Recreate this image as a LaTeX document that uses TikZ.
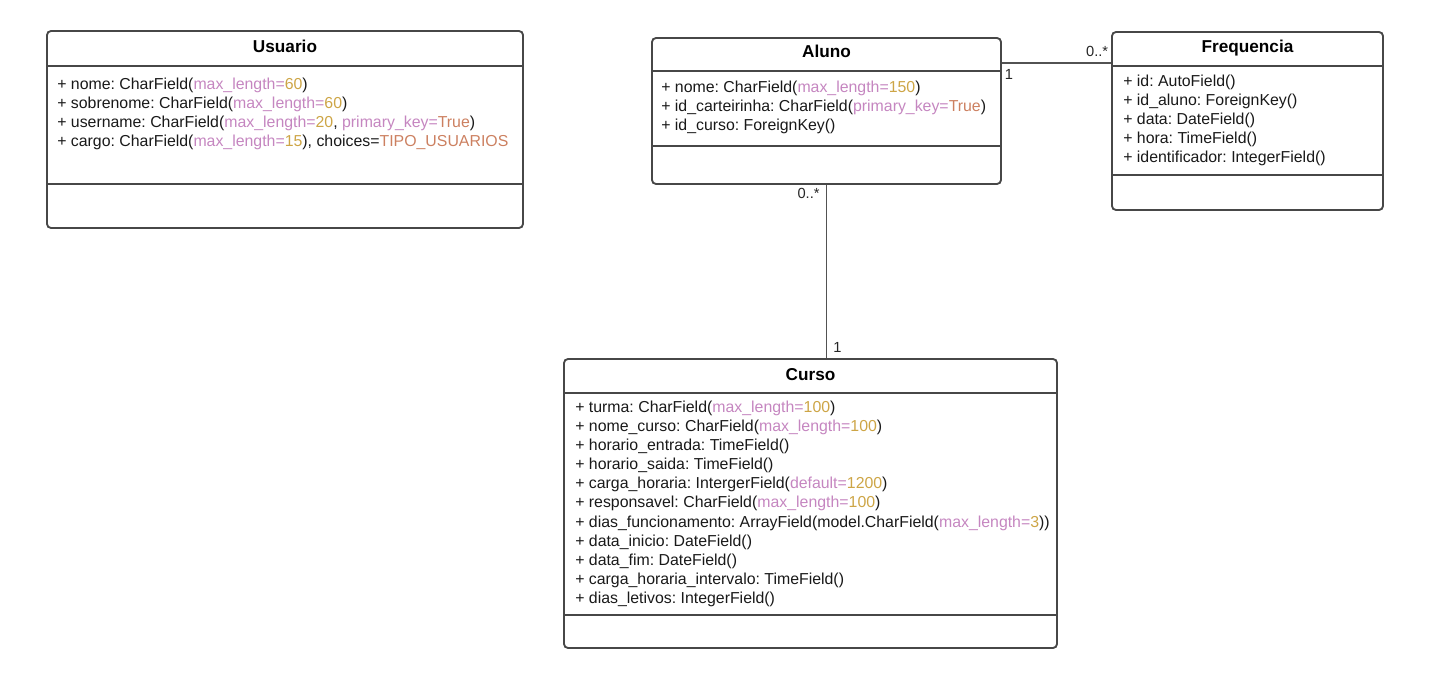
\documentclass[tikz,border=0pt]{standalone}
\usepackage{fontspec}
\setmainfont{Liberation Sans}
\usepackage{tikz}
\definecolor{argk}{RGB}{197,134,192}
\definecolor{argv}{RGB}{205,165,70}
\definecolor{truec}{RGB}{204,128,96}
\newcommand{\ak}[1]{\textcolor{argk}{#1}}
\newcommand{\av}[1]{\textcolor{argv}{#1}}
\newcommand{\tv}[1]{\textcolor{truec}{#1}}
\frenchspacing

\begin{document}
\begin{tikzpicture}[x=0.75pt,y=-0.75pt,
  classbox/.style={draw=black!72,line width=1.4pt,rounded corners=3pt,inner sep=0pt},
  title/.style={anchor=base,inner sep=0pt,font=\fontsize{12.9}{15}\selectfont\bfseries},
  attr/.style={anchor=base west,inner sep=0pt,text=black!90,font=\fontsize{11.9}{14}\selectfont},
  mult/.style={inner sep=1.5pt,text=black!85,font=\fontsize{11}{13}\selectfont},
  divider/.style={draw=black!72,line width=1.4pt},
  assoc/.style={draw=black!68,line width=1.4pt}]
\useasboundingbox (0,0) rectangle (1431,681);

% Usuario
\node[classbox,minimum width=357pt,minimum height=147.75pt] (usuario) at (285,129.5){};
\draw[divider] (usuario.west |- 0,66)--(usuario.east |- 0,66);\draw[divider] (usuario.west |- 0,184)--(usuario.east |- 0,184);
\node[title] (usuario-t) at (285,53){Usuario};
\node[attr] (u1) at (57,90){+ nome: CharField(\ak{max\_length=}\av{60})};
\node[attr] (u2) at (57,109){+ sobrenome: CharField(\ak{max\_length=}\av{60})};
\node[attr] (u3) at (57,128){+ username: CharField(\ak{max\_length=}\av{20}, \ak{primary\_key=}\tv{True})};
\node[attr] (u4) at (57,147){+ cargo: CharField(\ak{max\_length=}\av{15}), choices=\tv{TIPO\_USUARIOS}};

% Aluno
\node[classbox,minimum width=261.75pt,minimum height=109.5pt] (aluno) at (826.5,111){};
\draw[divider] (aluno.west |- 0,71)--(aluno.east |- 0,71);\draw[divider] (aluno.west |- 0,146)--(aluno.east |- 0,146);
\node[title] (aluno-t) at (826.5,58){Aluno};
\node[attr] (a1) at (661,93){+ nome: CharField(\ak{max\_length=}\av{150})};
\node[attr] (a2) at (661,112){+ id\_carteirinha: CharField(\ak{primary\_key=}\tv{True})};
\node[attr] (a3) at (661,131){+ id\_curso: ForeignKey()};

% Frequencia
\node[classbox,minimum width=203.25pt,minimum height=133.5pt] (frequencia) at (1247.5,121){};
\draw[divider] (frequencia.west |- 0,66)--(frequencia.east |- 0,66);\draw[divider] (frequencia.west |- 0,175)--(frequencia.east |- 0,175);
\node[title] (frequencia-t) at (1247.5,53){Frequencia};
\node[attr] (f1) at (1123,87){+ id: AutoField()};
\node[attr] (f2) at (1123,106){+ id\_aluno: ForeignKey()};
\node[attr] (f3) at (1123,125){+ data: DateField()};
\node[attr] (f4) at (1123,144){+ hora: TimeField()};
\node[attr] (f5) at (1123,163){+ identificador: IntegerField()};

% Curso
\node[classbox,minimum width=369.75pt,minimum height=216.75pt] (curso) at (810.5,503.5){};
\draw[divider] (curso.west |- 0,393)--(curso.east |- 0,393);\draw[divider] (curso.west |- 0,615)--(curso.east |- 0,615);
\node[title] (curso-t) at (810.5,380){Curso};
\node[attr] (c1) at (575,412){+ turma: CharField(\ak{max\_length=}\av{100})};
\node[attr] (c2) at (575,431){+ nome\_curso: CharField(\ak{max\_length=}\av{100})};
\node[attr] (c3) at (575,450){+ horario\_entrada: TimeField()};
\node[attr] (c4) at (575,469){+ horario\_saida: TimeField()};
\node[attr] (c5) at (575,488){+ carga\_horaria: IntergerField(\ak{default=}\av{1200})};
\node[attr] (c6) at (575,507){+ responsavel: CharField(\ak{max\_length=}\av{100})};
\node[attr] (c7) at (575,527){+ dias\_funcionamento: ArrayField(model.CharField(\ak{max\_length=}\av{3}))};
\node[attr] (c8) at (575,546){+ data\_inicio: DateField()};
\node[attr] (c9) at (575,565){+ data\_fim: DateField()};
\node[attr] (c10) at (575,584){+ carga\_horaria\_intervalo: TimeField()};
\node[attr] (c11) at (575,603){+ dias\_letivos: IntegerField()};

% associations
\coordinate (aluno-e) at ([yshift=-19.5pt]aluno.north east);
\draw[assoc] (aluno-e)--(aluno-e -| frequencia.west) node[mult,pos=0,below right,yshift=-2.5pt]{1} node[mult,pos=1,above left,yshift=2.5pt]{0..*};
\draw[assoc] (aluno.south)--(aluno.south |- curso.north) node[mult,pos=0,below left,xshift=-3pt]{0..*} node[mult,pos=1,above right,xshift=3pt,yshift=2pt]{1};
\end{tikzpicture}
\end{document}
